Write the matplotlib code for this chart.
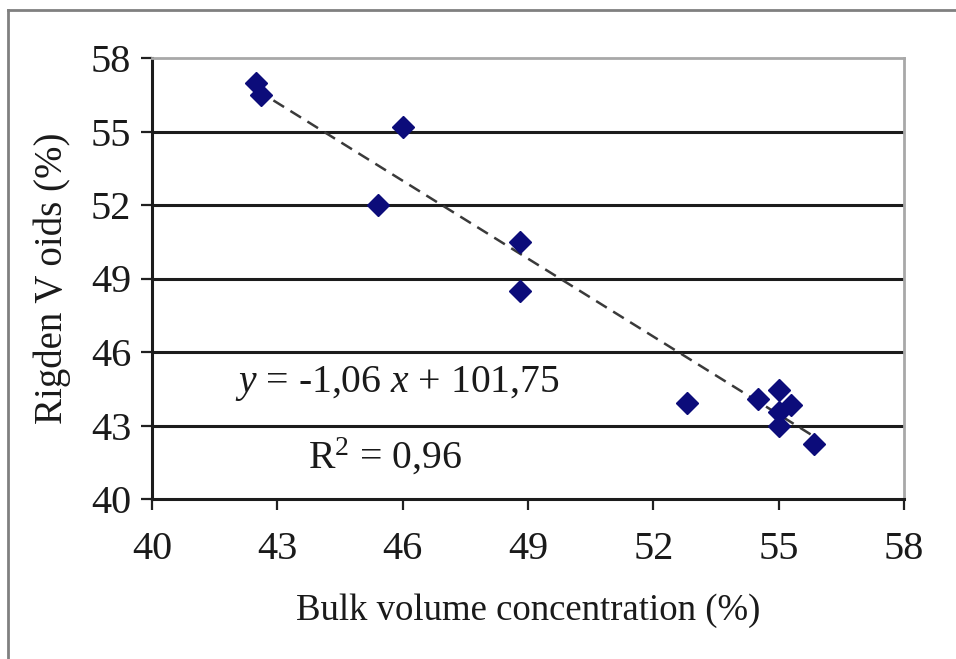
import matplotlib
matplotlib.use("Agg")
import matplotlib.pyplot as plt
from matplotlib.lines import Line2D
import numpy as np

plt.rcParams['font.family'] = ['Liberation Serif', 'DejaVu Serif']
plt.rcParams['mathtext.fontset'] = 'custom'
plt.rcParams['mathtext.rm'] = 'Liberation Serif'
plt.rcParams['mathtext.it'] = 'Liberation Serif:italic'

# measured points
bulk_conc = [42.5, 42.6, 46.0, 45.4, 48.8, 48.8, 52.8, 54.5, 55.0, 55.3, 55.0, 55.0, 55.85]
rigden_voids = [57.0, 56.5, 55.2, 52.0, 50.5, 48.5, 43.9, 44.1, 44.45, 43.85, 43.55, 43.0, 42.25]

# linear fit reported on the chart
slope = -1.06
intercept = 101.75
r_squared = 0.96

ticks = [40, 43, 46, 49, 52, 55, 58]

fig = plt.figure(figsize=(9.56, 6.59), dpi=100)
ax = fig.add_axes([152 / 956, 1 - 499 / 659, 752 / 956, 441 / 659])

# horizontal gridlines
for t in ticks[1:-1]:
    ax.axhline(t, color='#1c1c1c', linewidth=2.2, zorder=1)

xs = np.array([min(bulk_conc), max(bulk_conc)])
ax.plot(xs, slope * xs + intercept, color='#3a3a3a', linewidth=1.8,
        dashes=(5, 3), zorder=2)

ax.plot(bulk_conc, rigden_voids, linestyle='none', marker='D', markersize=11,
        color='#0c0c7a', markeredgecolor='#0c0c7a', zorder=3)

ax.set_xlim(40, 58)
ax.set_ylim(40, 58)
ax.set_xticks(ticks)
ax.set_yticks(ticks)
ax.tick_params(axis='both', direction='out', length=8, width=1.6, color='#202020',
               labelsize=29, labelcolor='#1a1a1a')
ax.tick_params(axis='x', pad=15)
ax.tick_params(axis='y', pad=7)

for side in ('left', 'bottom'):
    ax.spines[side].set_color('#1c1c1c')
    ax.spines[side].set_linewidth(2.2)
for side in ('top', 'right'):
    ax.spines[side].set_color('#a8a8a8')
    ax.spines[side].set_linewidth(2.0)

ax.set_xlabel('Bulk volume concentration (%)', fontsize=26.5, color='#1a1a1a', labelpad=18)
ax.set_ylabel('Rigden V oids (%)', fontsize=28, color='#1a1a1a', labelpad=14)

eq = r'$\mathit{y}$ = ' + f'{slope:.2f}'.replace('.', ',') + r' $\mathit{x}$ + ' + f'{intercept:.2f}'.replace('.', ',')
ax.text(45.88, 44.73, eq, fontsize=28.5, color='#1a1a1a', ha='center', va='center', zorder=4)
ax.text(45.57, 41.7, r'R$^2$ = ' + f'{r_squared:.2f}'.replace('.', ','), fontsize=28.5,
        color='#1a1a1a', ha='center', va='center', zorder=4)

# outer frame (top and left edges only)
fig.add_artist(Line2D([8 / 956, 1], [1 - 10 / 659] * 2, transform=fig.transFigure,
                      color='#808080', linewidth=2))
fig.add_artist(Line2D([8 / 956] * 2, [0, 1 - 10 / 659], transform=fig.transFigure,
                      color='#808080', linewidth=2))

fig.savefig('out.png', dpi=100)
